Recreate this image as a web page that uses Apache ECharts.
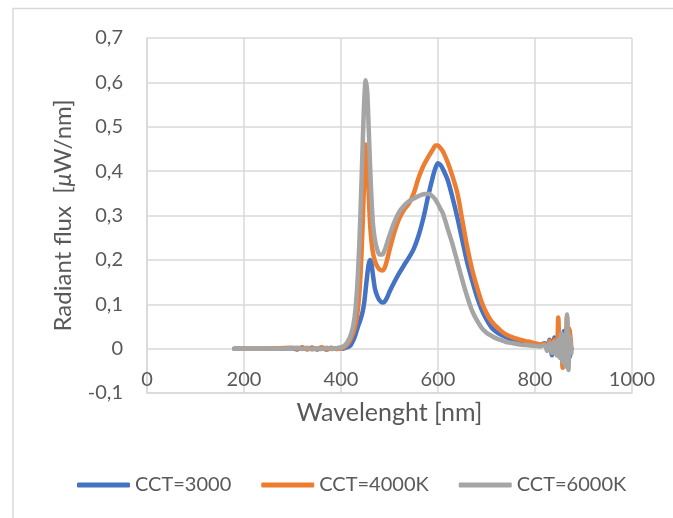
<!DOCTYPE html>
<html>
<head>
<meta charset="utf-8">
<script src="https://cdn.jsdelivr.net/npm/echarts@6/dist/echarts.min.js"></script>
<style>
html,body{margin:0;padding:0;background:#fff;}
#chart{width:673px;height:518px;}
</style>
</head>
<body>
<div id="chart"></div>
<script>
// Wavelength samples (nm)
const wavelength = [180, 200, 250, 300, 310, 320, 330, 340, 350, 360, 370, 380, 390, 400,
  405, 410, 415, 420, 425, 430, 435, 440, 445, 448, 451, 454, 457, 460, 463, 466,
  470, 475, 480, 485, 490, 495, 500, 510, 520, 530, 540, 550, 560, 570, 580, 590,
  595, 600, 605, 610, 620, 630, 640, 650, 660, 670, 680, 690, 700, 710, 720, 730,
  740, 750, 760, 770, 780, 790, 800, 810, 820, 825, 830, 835, 840, 845,
  848, 851, 854, 857, 860, 863, 866, 869, 872, 875];

// Radiant flux (µW/nm)
const cct3000 = [0, 0, 0, 0.001, -0.002, 0.002, -0.001, 0.002, -0.002, 0.001, -0.002, 0.001, 0, 0.001,
  0, 0.002, 0.004, 0.008, 0.018, 0.032, 0.05, 0.065, 0.085, 0.105, 0.135, 0.165, 0.19, 0.2, 0.19, 0.165,
  0.135, 0.118, 0.108, 0.104, 0.106, 0.115, 0.128, 0.15, 0.17, 0.188, 0.205, 0.225, 0.255, 0.295, 0.345, 0.39,
  0.408, 0.418, 0.414, 0.405, 0.38, 0.34, 0.295, 0.245, 0.195, 0.155, 0.118, 0.088, 0.066, 0.048, 0.038, 0.031,
  0.026, 0.022, 0.018, 0.015, 0.013, 0.012, 0.01, 0.009, 0.012, 0.005, 0.02, -0.015, 0.025, 0,
  -0.015, 0.03, 0.005, -0.02, 0.04, 0, -0.03, 0.035, -0.02, 0];

const cct4000 = [0, 0, 0, 0.002, -0.001, 0.003, -0.002, 0.002, -0.001, 0.003, -0.002, 0.002, -0.001, 0.001,
  0.002, 0.006, 0.012, 0.022, 0.035, 0.055, 0.09, 0.16, 0.29, 0.39, 0.46, 0.43, 0.35, 0.28, 0.24, 0.215,
  0.197, 0.185, 0.178, 0.176, 0.182, 0.2, 0.222, 0.262, 0.293, 0.313, 0.327, 0.35, 0.385, 0.412, 0.432, 0.45,
  0.458, 0.458, 0.452, 0.445, 0.42, 0.388, 0.35, 0.29, 0.23, 0.18, 0.14, 0.105, 0.08, 0.062, 0.05, 0.04,
  0.032, 0.027, 0.023, 0.02, 0.017, 0.015, 0.012, 0.01, 0.01, 0, 0.018, 0.005, 0.02, -0.01,
  0.07, -0.02, 0.03, -0.043, 0.02, -0.01, 0.072, -0.03, 0.045, 0];

const cct6000 = [0, 0, 0, 0.001, 0.002, -0.001, 0.002, -0.002, 0.001, -0.001, 0.002, -0.001, 0.001, 0.003,
  0.005, 0.01, 0.018, 0.03, 0.05, 0.09, 0.17, 0.3, 0.47, 0.56, 0.605, 0.58, 0.5, 0.41, 0.335, 0.28,
  0.245, 0.222, 0.212, 0.212, 0.222, 0.238, 0.255, 0.285, 0.308, 0.322, 0.332, 0.338, 0.344, 0.348, 0.349, 0.342,
  0.335, 0.326, 0.315, 0.305, 0.27, 0.235, 0.195, 0.155, 0.118, 0.086, 0.064, 0.047, 0.036, 0.029, 0.023, 0.019,
  0.015, 0.013, 0.011, 0.009, 0.008, 0.007, 0.006, 0.005, 0.008, -0.005, 0.012, -0.01, 0.015, -0.015,
  0.02, -0.02, 0.035, -0.03, 0.03, -0.04, 0.077, -0.048, 0.03, -0.01];

const seriesNames = ['CCT=3000', 'CCT=4000K', 'CCT=6000K'];
const seriesColors = ['#4472C4', '#ED7D31', '#A5A5A5'];
const xTicks = [0, 200, 400, 600, 800, 1000];

const FONT = 'Lato';
const TXT = '#595959';
const GRID = '#D9D9D9';

function pairs(vals) { return wavelength.map((w, i) => [w, vals[i]]); }

const chart = echarts.init(document.getElementById('chart'), null, { renderer: 'canvas' });

const makeSeries = (name, vals, color) => ({
  name: name,
  type: 'line',
  data: pairs(vals),
  showSymbol: false,
  symbol: 'none',
  smooth: 0.3,
  color: color,
  lineStyle: { width: 4.5, color: color, cap: 'round', join: 'round' },
  emphasis: { disabled: true },
  animation: false
});

chart.setOption({
  animation: false,
  textStyle: { fontFamily: FONT },
  graphic: [{
    type: 'rect', silent: true, z: -10,
    shape: { x: 13, y: 8.5, width: 700, height: 600 },
    style: { fill: '#fff', stroke: GRID, lineWidth: 1.5 }
  }],
  grid: { left: 147, top: 38, right: 41, bottom: 125, containLabel: false },
  legend: {
    data: seriesNames,
    left: 72, top: 470,
    icon: 'roundRect',
    itemWidth: 53, itemHeight: 5, itemGap: 30,
    textStyle: { fontFamily: FONT, fontSize: 20, color: TXT },
    selectedMode: false
  },
  xAxis: {
    type: 'value', min: xTicks[0], max: xTicks[xTicks.length - 1], interval: 200,
    name: 'Wavelenght [nm]', nameLocation: 'middle', nameGap: 7,
    nameTextStyle: { fontFamily: FONT, fontSize: 25, color: TXT },
    axisLine: { show: true, onZero: false, lineStyle: { color: GRID, width: 1.5 } },
    axisTick: { show: false },
    axisLabel: { color: TXT, fontSize: 20, fontFamily: FONT, margin: -23,
      formatter: v => String(v) },
    splitLine: { show: true, lineStyle: { color: GRID, width: 1.5 } }
  },
  yAxis: {
    type: 'value', min: -0.1, max: 0.7, interval: 0.1,
    name: 'Radiant flux  [{mu|μ}W/nm]', nameLocation: 'middle', nameGap: 72, nameRotate: 90,
    nameTextStyle: { fontFamily: FONT, fontSize: 24, color: TXT,
      rich: { mu: { fontFamily: FONT, fontSize: 24, color: TXT, fontStyle: 'italic' } } },
    axisLine: { show: true, onZero: false, lineStyle: { color: GRID, width: 1.5 } },
    axisTick: { show: false },
    axisLabel: { color: TXT, fontSize: 20, fontFamily: FONT, margin: 24,
      formatter: v => Math.abs(v) < 1e-9 ? '0' : v.toFixed(1).replace('.', ',') },
    splitLine: { show: true, lineStyle: { color: GRID, width: 1.5 } }
  },
  series: [
    makeSeries(seriesNames[0], cct3000, seriesColors[0]),
    makeSeries(seriesNames[1], cct4000, seriesColors[1]),
    makeSeries(seriesNames[2], cct6000, seriesColors[2])
  ]
});
</script>
</body>
</html>
